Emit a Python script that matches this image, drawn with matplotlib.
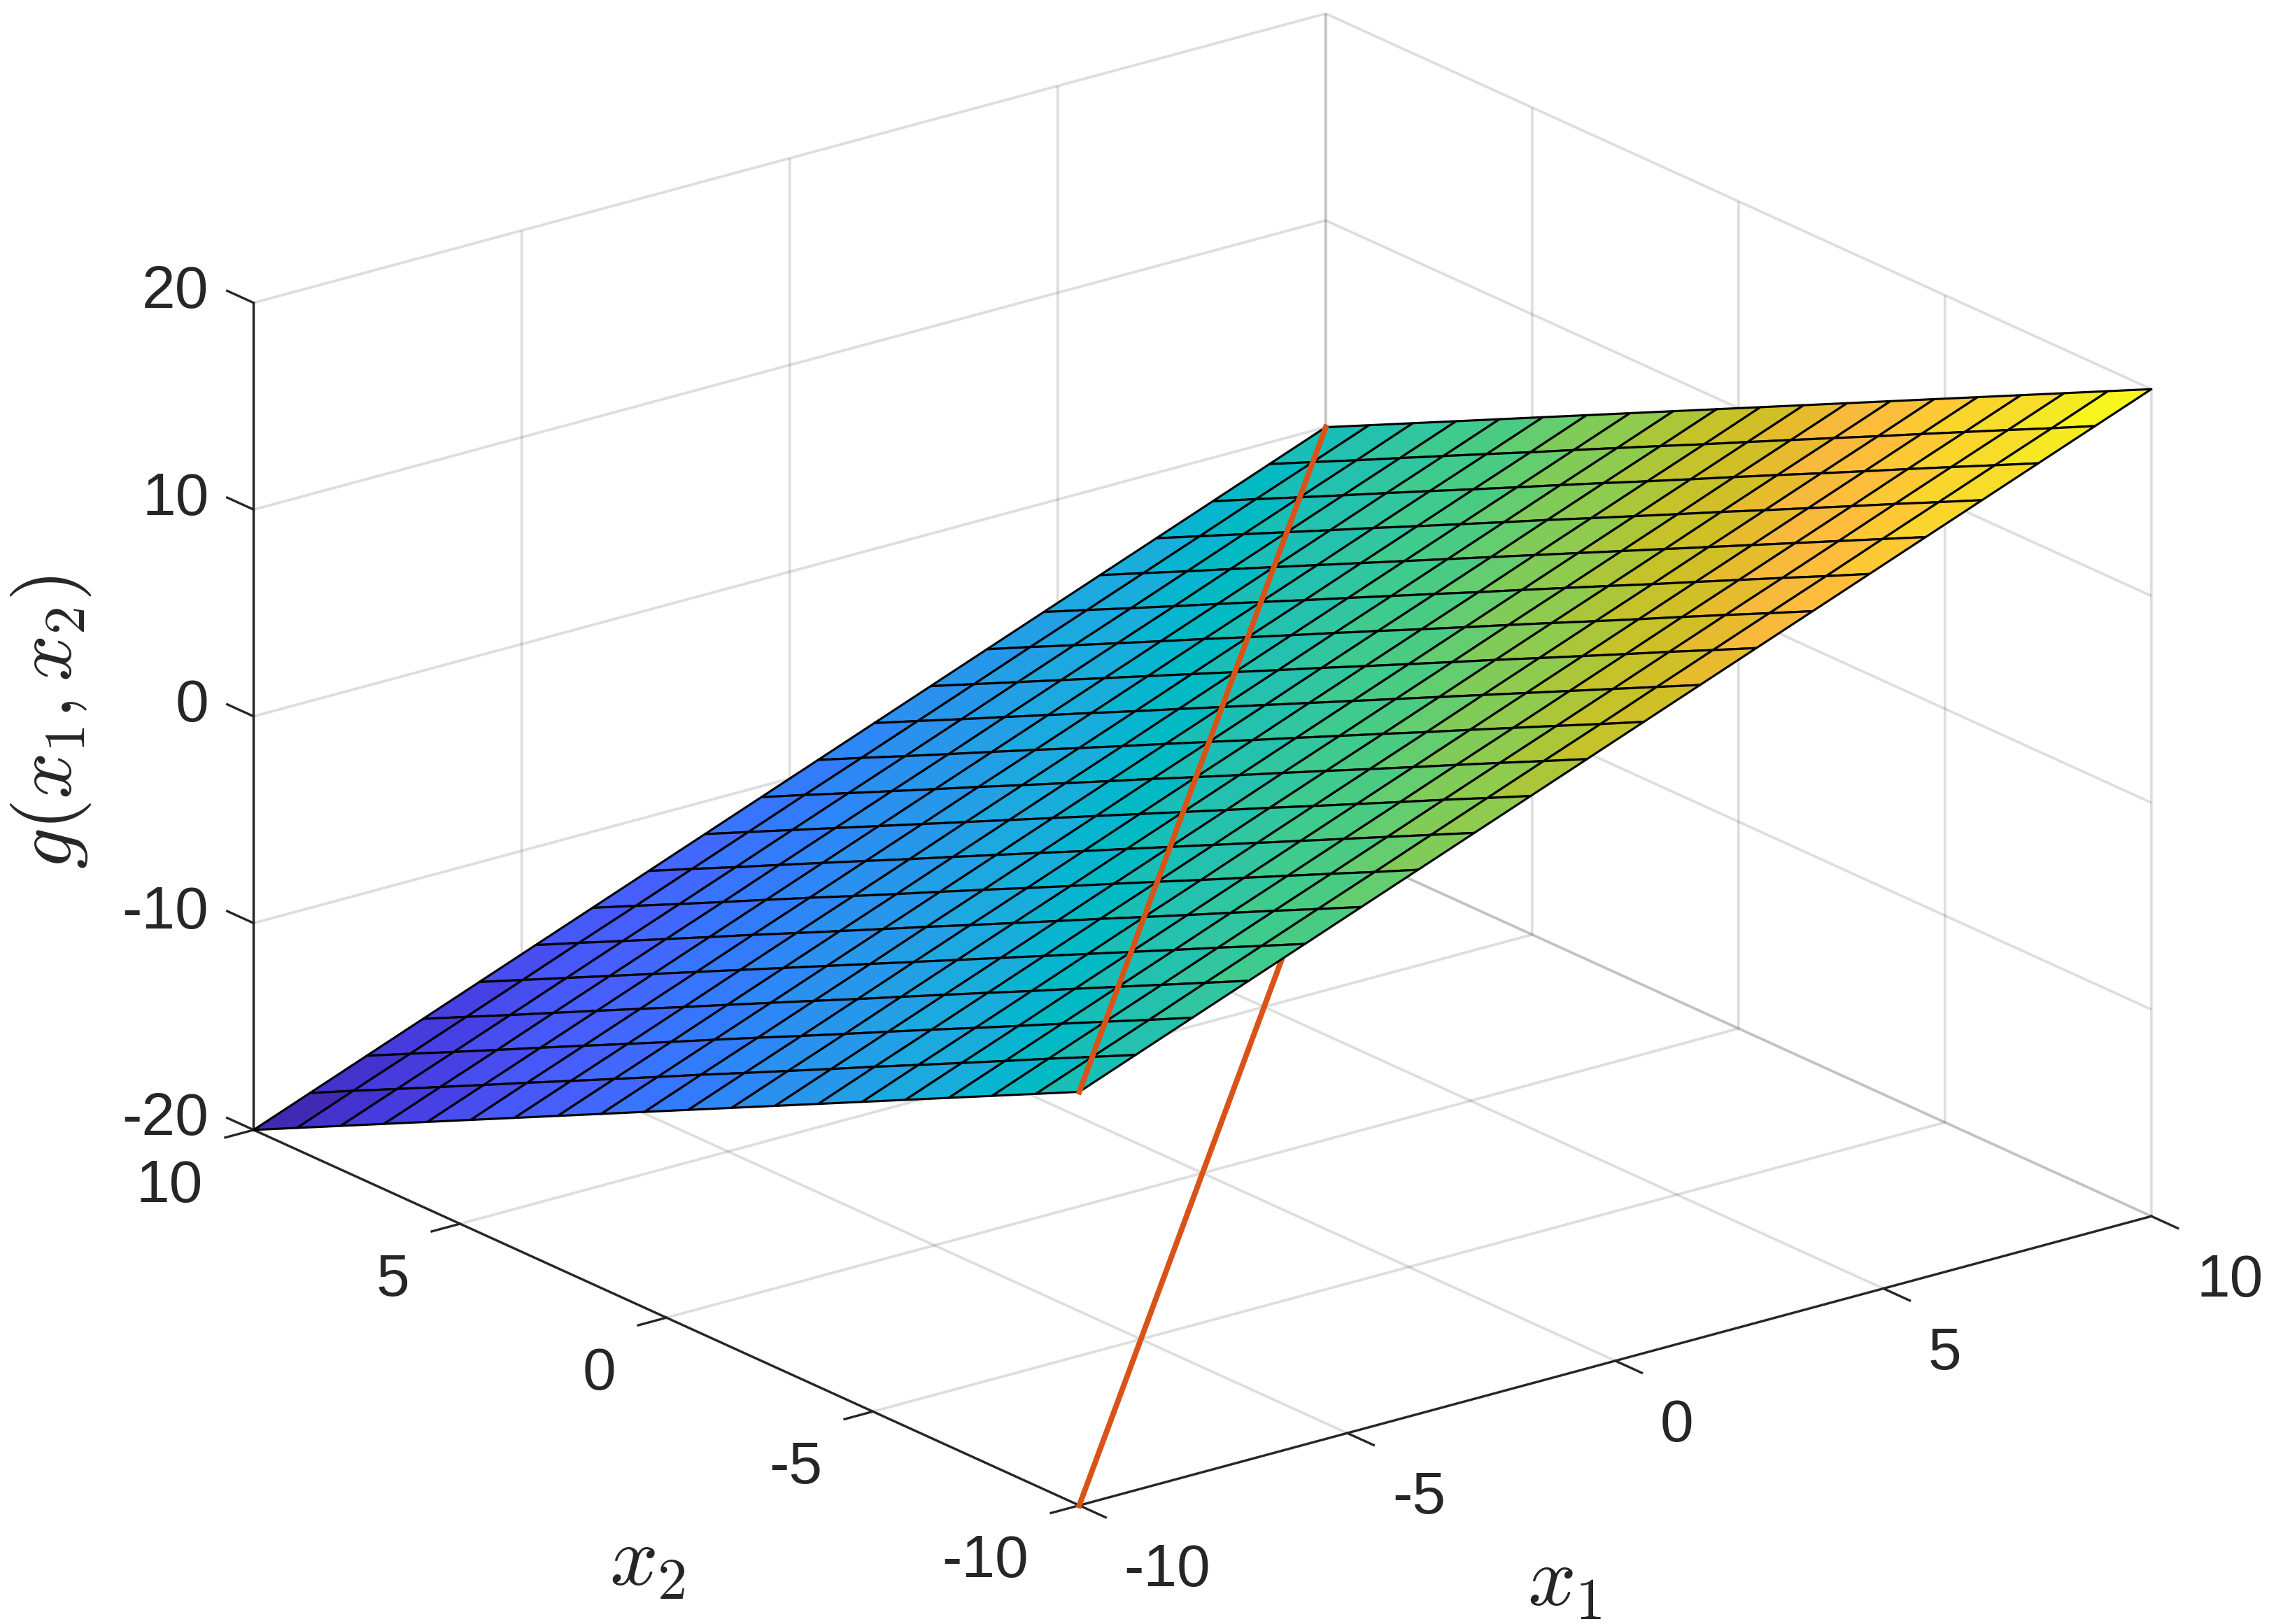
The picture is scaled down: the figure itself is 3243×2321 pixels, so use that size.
import numpy as np
import matplotlib
matplotlib.use('Agg')
import matplotlib.pyplot as plt
from matplotlib.colors import ListedColormap, Normalize
from mpl_toolkits.mplot3d import proj3d

x1_values = [-10, -8.95, -7.89, -6.84, -5.79, -4.74, -3.68, -2.63, -1.58, -0.53,
             0.53, 1.58, 2.63, 3.68, 4.74, 5.79, 6.84, 7.89, 8.95, 10]
x2_values = [-10, -8.95, -7.89, -6.84, -5.79, -4.74, -3.68, -2.63, -1.58, -0.53,
             0.53, 1.58, 2.63, 3.68, 4.74, 5.79, 6.84, 7.89, 8.95, 10]

# one row per x2 value
g_values = [
    [0, 1.05, 2.11, 3.16, 4.21, 5.26, 6.32, 7.37, 8.42, 9.47, 10.53, 11.58, 12.63, 13.68, 14.74, 15.79, 16.84, 17.89, 18.95, 20],
    [-1.05, 0, 1.05, 2.11, 3.16, 4.21, 5.26, 6.32, 7.37, 8.42, 9.47, 10.53, 11.58, 12.63, 13.68, 14.74, 15.79, 16.84, 17.89, 18.95],
    [-2.11, -1.05, 0, 1.05, 2.11, 3.16, 4.21, 5.26, 6.32, 7.37, 8.42, 9.47, 10.53, 11.58, 12.63, 13.68, 14.74, 15.79, 16.84, 17.89],
    [-3.16, -2.11, -1.05, 0, 1.05, 2.11, 3.16, 4.21, 5.26, 6.32, 7.37, 8.42, 9.47, 10.53, 11.58, 12.63, 13.68, 14.74, 15.79, 16.84],
    [-4.21, -3.16, -2.11, -1.05, 0, 1.05, 2.11, 3.16, 4.21, 5.26, 6.32, 7.37, 8.42, 9.47, 10.53, 11.58, 12.63, 13.68, 14.74, 15.79],
    [-5.26, -4.21, -3.16, -2.11, -1.05, 0, 1.05, 2.11, 3.16, 4.21, 5.26, 6.32, 7.37, 8.42, 9.47, 10.53, 11.58, 12.63, 13.68, 14.74],
    [-6.32, -5.26, -4.21, -3.16, -2.11, -1.05, 0, 1.05, 2.11, 3.16, 4.21, 5.26, 6.32, 7.37, 8.42, 9.47, 10.53, 11.58, 12.63, 13.68],
    [-7.37, -6.32, -5.26, -4.21, -3.16, -2.11, -1.05, 0, 1.05, 2.11, 3.16, 4.21, 5.26, 6.32, 7.37, 8.42, 9.47, 10.53, 11.58, 12.63],
    [-8.42, -7.37, -6.32, -5.26, -4.21, -3.16, -2.11, -1.05, 0, 1.05, 2.11, 3.16, 4.21, 5.26, 6.32, 7.37, 8.42, 9.47, 10.53, 11.58],
    [-9.47, -8.42, -7.37, -6.32, -5.26, -4.21, -3.16, -2.11, -1.05, 0, 1.05, 2.11, 3.16, 4.21, 5.26, 6.32, 7.37, 8.42, 9.47, 10.53],
    [-10.53, -9.47, -8.42, -7.37, -6.32, -5.26, -4.21, -3.16, -2.11, -1.05, 0, 1.05, 2.11, 3.16, 4.21, 5.26, 6.32, 7.37, 8.42, 9.47],
    [-11.58, -10.53, -9.47, -8.42, -7.37, -6.32, -5.26, -4.21, -3.16, -2.11, -1.05, 0, 1.05, 2.11, 3.16, 4.21, 5.26, 6.32, 7.37, 8.42],
    [-12.63, -11.58, -10.53, -9.47, -8.42, -7.37, -6.32, -5.26, -4.21, -3.16, -2.11, -1.05, 0, 1.05, 2.11, 3.16, 4.21, 5.26, 6.32, 7.37],
    [-13.68, -12.63, -11.58, -10.53, -9.47, -8.42, -7.37, -6.32, -5.26, -4.21, -3.16, -2.11, -1.05, 0, 1.05, 2.11, 3.16, 4.21, 5.26, 6.32],
    [-14.74, -13.68, -12.63, -11.58, -10.53, -9.47, -8.42, -7.37, -6.32, -5.26, -4.21, -3.16, -2.11, -1.05, 0, 1.05, 2.11, 3.16, 4.21, 5.26],
    [-15.79, -14.74, -13.68, -12.63, -11.58, -10.53, -9.47, -8.42, -7.37, -6.32, -5.26, -4.21, -3.16, -2.11, -1.05, 0, 1.05, 2.11, 3.16, 4.21],
    [-16.84, -15.79, -14.74, -13.68, -12.63, -11.58, -10.53, -9.47, -8.42, -7.37, -6.32, -5.26, -4.21, -3.16, -2.11, -1.05, 0, 1.05, 2.11, 3.16],
    [-17.89, -16.84, -15.79, -14.74, -13.68, -12.63, -11.58, -10.53, -9.47, -8.42, -7.37, -6.32, -5.26, -4.21, -3.16, -2.11, -1.05, 0, 1.05, 2.11],
    [-18.95, -17.89, -16.84, -15.79, -14.74, -13.68, -12.63, -11.58, -10.53, -9.47, -8.42, -7.37, -6.32, -5.26, -4.21, -3.16, -2.11, -1.05, 0, 1.05],
    [-20, -18.95, -17.89, -16.84, -15.79, -14.74, -13.68, -12.63, -11.58, -10.53, -9.47, -8.42, -7.37, -6.32, -5.26, -4.21, -3.16, -2.11, -1.05, 0],
]

# the red diagonal, on the floor and on the surface
line_x1 = [-10, 10]
line_x2 = [-10, 10]
line_floor = [-20, -20]
line_surface = [0, 0]

x1_ticks = [-10, -5, 0, 5, 10]
x2_ticks = [-10, -5, 0, 5, 10]
g_ticks = [-20, -10, 0, 10, 20]
x1_tick_labels = ['-10', '-5', '0', '5', '10']
x2_tick_labels = ['-10', '-5', '0', '5', '10']
g_tick_labels = ['-20', '-10', '0', '10', '20']

parula = ListedColormap([
    [0.2422, 0.1504, 0.6603], [0.2504, 0.1650, 0.7076], [0.2578, 0.1818, 0.7511], [0.2647, 0.1978, 0.7952],
    [0.2706, 0.2147, 0.8364], [0.2751, 0.2342, 0.8710], [0.2783, 0.2559, 0.8991], [0.2803, 0.2782, 0.9221],
    [0.2813, 0.3006, 0.9414], [0.2810, 0.3228, 0.9579], [0.2795, 0.3447, 0.9717], [0.2760, 0.3667, 0.9829],
    [0.2699, 0.3892, 0.9906], [0.2602, 0.4123, 0.9952], [0.2440, 0.4358, 0.9988], [0.2206, 0.4603, 0.9973],
    [0.1963, 0.4847, 0.9892], [0.1834, 0.5074, 0.9798], [0.1786, 0.5289, 0.9682], [0.1764, 0.5499, 0.9520],
    [0.1687, 0.5703, 0.9359], [0.1540, 0.5902, 0.9218], [0.1460, 0.6091, 0.9079], [0.1380, 0.6276, 0.8973],
    [0.1248, 0.6459, 0.8883], [0.1113, 0.6635, 0.8763], [0.0952, 0.6798, 0.8598], [0.0689, 0.6948, 0.8394],
    [0.0297, 0.7082, 0.8163], [0.0036, 0.7203, 0.7917], [0.0067, 0.7312, 0.7660], [0.0433, 0.7411, 0.7394],
    [0.0964, 0.7500, 0.7120], [0.1408, 0.7584, 0.6842], [0.1717, 0.7670, 0.6554], [0.1938, 0.7758, 0.6251],
    [0.2161, 0.7843, 0.5923], [0.2470, 0.7918, 0.5567], [0.2906, 0.7973, 0.5188], [0.3406, 0.8008, 0.4789],
    [0.3909, 0.8029, 0.4354], [0.4456, 0.8024, 0.3909], [0.5044, 0.7993, 0.3480], [0.5616, 0.7942, 0.3045],
    [0.6174, 0.7876, 0.2612], [0.6720, 0.7793, 0.2227], [0.7242, 0.7698, 0.1910], [0.7738, 0.7598, 0.1646],
    [0.8203, 0.7498, 0.1535], [0.8634, 0.7406, 0.1596], [0.9035, 0.7330, 0.1774], [0.9393, 0.7288, 0.2100],
    [0.9728, 0.7298, 0.2394], [0.9956, 0.7434, 0.2371], [0.9970, 0.7659, 0.2199], [0.9952, 0.7893, 0.2028],
    [0.9892, 0.8136, 0.1885], [0.9786, 0.8386, 0.1766], [0.9676, 0.8639, 0.1643], [0.9610, 0.8890, 0.1537],
    [0.9597, 0.9135, 0.1423], [0.9628, 0.9373, 0.1265], [0.9691, 0.9606, 0.1064], [0.9769, 0.9839, 0.0805],
])

TEXT_COLOR = '#262626'
RED = '#D95319'
# offsets below were measured on the 1568 wide preview, this turns them into points
PT = 3243 / 1568 / 300 * 72

plt.rcParams['font.family'] = ['Liberation Sans', 'DejaVu Sans']
plt.rcParams['mathtext.fontset'] = 'cm'
plt.rcParams['font.size'] = 20.6
plt.rcParams['axes.linewidth'] = 0.8
plt.rcParams['xtick.major.width'] = 0.8
plt.rcParams['ytick.major.width'] = 0.8
plt.rcParams['xtick.color'] = TEXT_COLOR
plt.rcParams['ytick.color'] = TEXT_COLOR
plt.rcParams['axes.edgecolor'] = TEXT_COLOR
plt.rcParams['grid.color'] = (0.15, 0.15, 0.15, 0.15)
plt.rcParams['grid.linewidth'] = 0.9

fig = plt.figure(figsize=(3243 / 300, 2321 / 300), dpi=300)
# big square axes so nothing gets clipped at the axes box
side = 3500
ax = fig.add_axes([-78.6 / 3243, -561.8 / 2321, side / 3243, side / 2321],
                  projection='3d', computed_zorder=False, proj_type='ortho')
ax.patch.set_alpha(0)

X, Y = np.meshgrid(x1_values, x2_values)
Z = np.array(g_values)
norm = Normalize(-20, 20)

ax.plot(line_x1, line_x2, line_floor, color=RED, lw=1.9, zorder=1)
ax.plot_surface(X, Y, Z, facecolors=parula(norm(Z)), edgecolor='black', linewidth=0.75,
                shade=False, zorder=2)
ax.plot(line_x1, line_x2, line_surface, color=RED, lw=1.9, zorder=3)

ax.set_xlim(-10, 10)
ax.set_ylim(-10, 10)
ax.set_zlim(-20, 20)
ax.set_xticks(x1_ticks)
ax.set_yticks(x2_ticks)
ax.set_zticks(g_ticks)
ax.set_xticklabels([])
ax.set_yticklabels([])
ax.set_zticklabels([])

ax.view_init(elev=20.5, azim=-127.6)
ax.set_box_aspect((1, 1, 0.6525), zoom=0.8355)

for axis in (ax.xaxis, ax.yaxis, ax.zaxis):
    axis.set_pane_color((1, 1, 1, 0))
    axis.pane.set_edgecolor((1, 1, 1, 0))
    axis.line.set_color(TEXT_COLOR)
    axis._axinfo['tick']['inward_factor'] = 0
    axis._axinfo['tick']['color'] = TEXT_COLOR

# x1 and x2 axes sit on the front edges, ticks have to go the other way to point out
ax.xaxis.set_ticks_position('lower')
ax.yaxis.set_ticks_position('lower')
ax.xaxis._axinfo['tick']['outward_factor'] = -0.4
ax.yaxis._axinfo['tick']['outward_factor'] = -0.33

# g axis on the left corner, ticks along x2
ax.zaxis.set_ticks_position('upper')
ax.zaxis._get_tickdir = lambda position: 1
ax.zaxis._axinfo['tick']['outward_factor'] = 0.4


def put_text(x, y, z, text, dx, dy, **kw):
    # text placed from the projected data point, dy is down in the preview
    px, py, _ = proj3d.proj_transform(x, y, z, ax.get_proj())
    ax.annotate(text, xy=(px, py), xycoords='data', xytext=(dx * PT, -dy * PT),
                textcoords='offset points', color=TEXT_COLOR, annotation_clip=False, **kw)


for v, lab in zip(x1_ticks, x1_tick_labels):
    put_text(v, -10, -20, lab, 31, 45, ha='left', va='center')
for v, lab in zip(x2_ticks, x2_tick_labels):
    put_text(-10, v, -20, lab, -35, 39, ha='right', va='center')
for v, lab in zip(g_ticks, g_tick_labels):
    put_text(-10, 10, v, lab, -31, -7, ha='right', va='center')

put_text(0, -10, -20, r'$x_1$', -35, 154, ha='center', va='center', fontsize=29)
put_text(-10, 0, -20, r'$x_2$', -13, 170, ha='center', va='center', fontsize=29)
put_text(-10, 10, 0, r'$g(x_1,x_2)$', -140, 4, ha='center', va='center', fontsize=28, rotation=90)

fig.savefig('out.png', dpi=300, facecolor='white')
plt.close(fig)
